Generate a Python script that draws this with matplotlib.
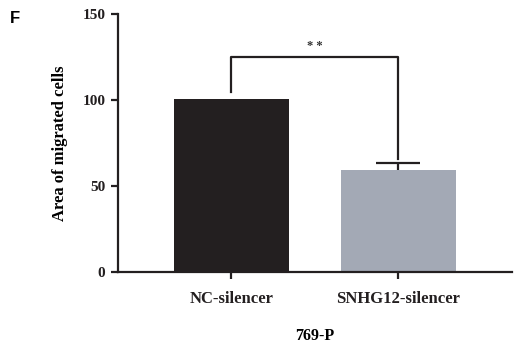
import numpy as np
import matplotlib.pyplot as plt

groups = ['NC-silencer', 'SNHG12-silencer']
means = [100.5, 59.5]
errs = [0, 4]
bar_colors = ['#231f20', '#a3a9b5']

fig = plt.figure(figsize=(5.17, 3.5), dpi=100)
ax = fig.add_axes([0.228, 0.223, 0.762, 0.737])

x = np.arange(len(groups))
# error bar drawn behind the bars so only the upper half shows
ax.errorbar(x[1:], means[1:], yerr=errs[1:], fmt='none', ecolor='#231f20',
            elinewidth=1.6, capsize=16, capthick=1.6, zorder=1)
ax.bar(x, means, width=0.69, color=bar_colors, zorder=2)

# significance bracket
bk_y, left_y, right_y = 125, 104.5, 65.5
ax.plot([x[0], x[0], x[1], x[1]], [left_y, bk_y, bk_y, right_y], color='#231f20', lw=1.6,
        clip_on=False, zorder=3)
ax.text(0.5, bk_y + 3, '* *', ha='center', va='bottom', fontsize=9, fontweight='bold',
        family='Liberation Serif', color='#333333')

ax.set_xlim(-0.68, 1.68)
ax.set_ylim(0, 150)
ax.set_yticks([0, 50, 100, 150])
ax.set_xticks(x)
ax.set_xticklabels(groups)
for s in ['top', 'right']:
    ax.spines[s].set_visible(False)
for s in ['left', 'bottom']:
    ax.spines[s].set_linewidth(1.6)
    ax.spines[s].set_color('#231f20')
ax.tick_params(axis='y', length=5, width=1.6, labelsize=11, pad=4, colors='#231f20')
ax.tick_params(axis='x', length=5, width=1.6, labelsize=12, pad=9, colors='#231f20')
for lab in ax.get_xticklabels() + ax.get_yticklabels():
    lab.set_family('Liberation Serif')
    lab.set_fontweight('bold')

ax.set_ylabel('Area of migrated cells', family='Liberation Serif', fontweight='bold',
              fontsize=12, labelpad=10)
ax.set_xlabel('769-P', family='Liberation Serif', fontweight='bold', fontsize=11.5,
              labelpad=15)

fig.text(0.02, 0.935, 'F', fontsize=12, fontweight='bold', family='Liberation Sans')

fig.savefig('out.png', dpi=100)
